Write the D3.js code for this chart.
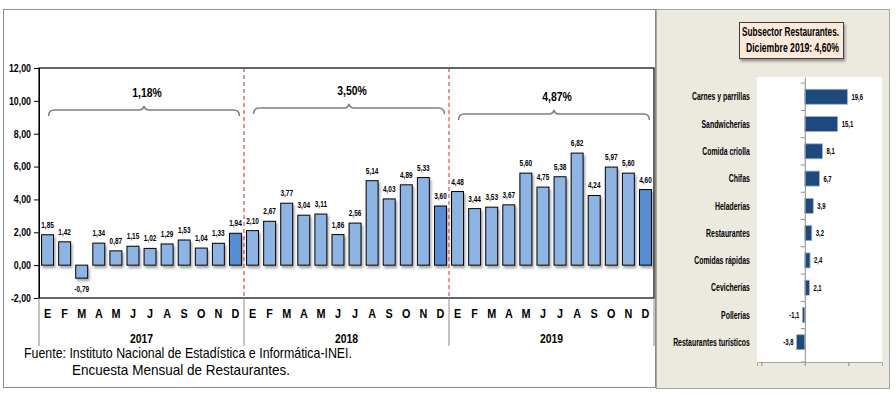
<!DOCTYPE html>
<html>
<head>
<meta charset="utf-8">
<script src="https://cdnjs.cloudflare.com/ajax/libs/d3/7.8.5/d3.min.js"></script>
<style>
  html, body { margin: 0; padding: 0; background: #fff; }
  svg { display: block; }
  text { font-family: "Liberation Sans", Arial, sans-serif; }
</style>
</head>
<body>
<svg id="chart" width="896" height="396"></svg>
<script>
// data
var months = ['E', 'F', 'M', 'A', 'M', 'J', 'J', 'A', 'S', 'O', 'N', 'D'];
var years = ['2017', '2018', '2019'];
var values2017 = [1.85, 1.42, -0.79, 1.34, 0.87, 1.15, 1.02, 1.29, 1.53, 1.04, 1.33, 1.94];
var values2018 = [2.10, 2.67, 3.77, 3.04, 3.11, 1.86, 2.56, 5.14, 4.03, 4.89, 5.33, 3.60];
var values2019 = [4.48, 3.44, 3.53, 3.67, 5.60, 4.75, 5.38, 6.82, 4.24, 5.97, 5.60, 4.60];
var yearTotals = ['1,18%', '3,50%', '4,87%'];
var yTicks = [-2, 0, 2, 4, 6, 8, 10, 12];

var subCategories = ['Carnes y parrillas', 'Sandwicherías', 'Comida criolla', 'Chifas', 'Heladerías',
  'Restaurantes', 'Comidas rápidas', 'Cevicherías', 'Pollerías', 'Restaurantes turísticos'];
var subValues = [19.6, 15.1, 8.1, 6.7, 3.9, 3.2, 2.4, 2.1, -1.1, -3.8];
var subTicks = [-20, 0, 20];
var panelTitle = ['Subsector Restaurantes.', 'Diciembre 2019: 4,60%'];
var sourceNotes = ['Fuente: Instituto Nacional de Estadística e Informática-INEI.', 'Encuesta Mensual de  Restaurantes.'];

(function () {
  'use strict';
  var svg = d3.select('#chart');
  var loc = d3.formatLocale({ decimal: ',', thousands: '.', grouping: [3], currency: ['', ''], minus: '-' });
  var fmt2 = loc.format('.2f');
  var fmt1 = loc.format('.1f');

  // the original font is a narrow one; squeeze text horizontally
  function condense(sel, factor) {
    sel.each(function () {
      var w = this.getComputedTextLength();
      d3.select(this).attr('textLength', w * factor).attr('lengthAdjust', 'spacingAndGlyphs');
    });
  }
  function fitTo(sel, width) {
    sel.attr('textLength', width).attr('lengthAdjust', 'spacingAndGlyphs');
  }

  var series = [values2017, values2018, values2019];
  var rows = [];
  years.forEach(function (yr, i) {
    series[i].forEach(function (v, m) {
      rows.push({ key: yr + '-' + m, year: yr, month: months[m], value: v, dec: m === 11 });
    });
  });

  var defs = svg.append('defs');
  defs.append('filter').attr('id', 'shadow')
    .attr('x', '-30%').attr('y', '-30%').attr('width', '170%').attr('height', '170%')
    .append('feDropShadow')
    .attr('dx', 1.5).attr('dy', 2.5).attr('stdDeviation', 1.3)
    .attr('flood-color', '#000').attr('flood-opacity', 0.35);

  // outer frames
  svg.append('rect').attr('x', 3.5).attr('y', 9.5).attr('width', 652).attr('height', 378)
    .attr('fill', '#fff').attr('stroke', '#8c8c8c');
  svg.append('rect').attr('x', 656.5).attr('y', 9.5).attr('width', 233).attr('height', 379)
    .attr('fill', '#ECE9DF').attr('stroke', '#a6a6a6');

  // ---------- main chart ----------
  var plot = { left: 39, right: 654, top: 68, bottom: 298 };
  var x = d3.scaleBand().domain(rows.map(function (d) { return d.key; }))
    .range([plot.left, plot.right]).paddingInner(0.3).paddingOuter(0.15);
  var y = d3.scaleLinear().domain([-2, 12]).range([plot.bottom, plot.top]);

  svg.append('rect').attr('x', plot.left).attr('y', plot.top)
    .attr('width', plot.right - plot.left).attr('height', plot.bottom - plot.top)
    .attr('fill', 'none').attr('stroke', '#000').attr('stroke-width', 1.2);

  var yAxis = svg.append('g').attr('transform', 'translate(' + plot.left + ',0)')
    .call(d3.axisLeft(y).tickValues(yTicks).tickSize(5).tickPadding(3).tickFormat(fmt2));
  yAxis.select('.domain').attr('stroke', '#000');
  yAxis.selectAll('.tick line').attr('stroke', '#000');
  yAxis.selectAll('text').attr('font-size', 10.5).attr('font-weight', 'bold').attr('fill', '#000')
    .attr('font-family', '"Liberation Sans", Arial, sans-serif').call(condense, 0.84);

  // zero line
  svg.append('line').attr('x1', plot.left).attr('x2', plot.right)
    .attr('y1', y(0)).attr('y2', y(0)).attr('stroke', '#8c8c8c').attr('stroke-width', 1.2)
    .attr('filter', 'url(#shadow)');

  svg.append('g').selectAll('rect').data(rows).join('rect')
    .attr('x', function (d) { return x(d.key); })
    .attr('width', x.bandwidth())
    .attr('y', function (d) { return y(Math.max(0, d.value)); })
    .attr('height', function (d) { return Math.abs(y(d.value) - y(0)); })
    .attr('fill', function (d) { return d.dec ? '#558ED5' : '#8EB4E3'; })
    .attr('stroke', '#000').attr('stroke-width', 1)
    .attr('filter', 'url(#shadow)');

  svg.append('g').selectAll('text').data(rows).join('text')
    .attr('x', function (d) { return x(d.key) + x.bandwidth() / 2; })
    .attr('y', function (d) { return d.value >= 0 ? y(d.value) - 7 : y(d.value) + 14; })
    .attr('text-anchor', 'middle').attr('font-size', 9.5).attr('font-weight', 'bold')
    .text(function (d) { return fmt2(d.value); })
    .call(condense, 0.68);

  // year separators (red dashed inside, grey below)
  var sepX = [1, 2].map(function (i) { return x(rows[i * 12].key) - x.step() * x.paddingInner() / 2; });
  svg.append('g').selectAll('line').data(sepX).join('line')
    .attr('x1', function (d) { return d; }).attr('x2', function (d) { return d; })
    .attr('y1', plot.top).attr('y2', plot.bottom)
    .attr('stroke', '#d9262b').attr('stroke-width', 1).attr('stroke-dasharray', '4,3');
  svg.append('g').selectAll('line').data([plot.left].concat(sepX, [plot.right])).join('line')
    .attr('x1', function (d) { return d; }).attr('x2', function (d) { return d; })
    .attr('y1', plot.bottom).attr('y2', 346)
    .attr('stroke', '#8c8c8c').attr('stroke-width', 1);

  // month and year labels
  svg.append('g').selectAll('text').data(rows).join('text')
    .attr('x', function (d) { return x(d.key) + x.bandwidth() / 2; })
    .attr('y', 318).attr('text-anchor', 'middle')
    .attr('font-size', 13.5).attr('font-weight', 'bold')
    .text(function (d) { return d.month; })
    .call(condense, 0.8);
  svg.append('g').selectAll('text').data(years).join('text')
    .attr('x', function (d, i) { return (x(rows[i * 12].key) + x(rows[i * 12 + 11].key) + x.bandwidth()) / 2; })
    .attr('y', 343).attr('text-anchor', 'middle')
    .attr('font-size', 13).attr('font-weight', 'bold')
    .text(function (d) { return d; })
    .call(condense, 0.8);

  // braces with yearly totals
  var braceY = [110, 108, 114];
  function bracePath(x1, x2, yy) {
    var mid = (x1 + x2) / 2;
    return 'M' + x1 + ',' + (yy + 6) + 'Q' + x1 + ',' + yy + ' ' + (x1 + 6) + ',' + yy +
      'L' + (mid - 5) + ',' + yy + 'Q' + (mid - 1) + ',' + yy + ' ' + mid + ',' + (yy - 4) +
      'Q' + (mid + 1) + ',' + yy + ' ' + (mid + 5) + ',' + yy +
      'L' + (x2 - 6) + ',' + yy + 'Q' + x2 + ',' + yy + ' ' + x2 + ',' + (yy + 6);
  }
  years.forEach(function (yr, i) {
    var x1 = x(rows[i * 12].key) + 7;
    var x2 = x(rows[i * 12 + 11].key) + x.bandwidth() - 2;
    svg.append('path').attr('d', bracePath(x1, x2, braceY[i]))
      .attr('fill', 'none').attr('stroke', '#7f7f7f').attr('stroke-width', 1.5);
    svg.append('text').attr('x', (x1 + x2) / 2 + 3).attr('y', braceY[i] - 13)
      .attr('text-anchor', 'middle').attr('font-size', 13).attr('font-weight', 'bold')
      .text(yearTotals[i])
      .call(condense, 0.8);
  });

  // source notes
  svg.append('text').attr('x', 24).attr('y', 358).attr('font-size', 14.5)
    .text(sourceNotes[0]).call(fitTo, 328);
  svg.append('text').attr('x', 72).attr('y', 375).attr('font-size', 14.5)
    .text(sourceNotes[1]).call(fitTo, 218);

  // ---------- side panel ----------
  var box = svg.append('g');
  box.append('rect').attr('x', 739.5).attr('y', 22.5).attr('width', 104).attr('height', 36)
    .attr('fill', '#FDE9D9').attr('stroke', '#404040').attr('filter', 'url(#shadow)');
  box.selectAll('text').data(panelTitle).join('text')
    .attr('x', function (d, i) { return i === 0 ? 742 : 746; })
    .attr('y', function (d, i) { return 36 + i * 16; })
    .attr('font-size', 12).attr('font-weight', 'bold')
    .text(function (d) { return d; })
    .each(function (d, i) { d3.select(this).call(fitTo, i === 0 ? 97 : 93); });

  var sp = { left: 757, right: 882, top: 77, bottom: 362 };
  svg.append('rect').attr('x', sp.left).attr('y', sp.top)
    .attr('width', sp.right - sp.left).attr('height', sp.bottom - sp.top).attr('fill', '#fff');
  var xr = d3.scaleLinear().domain([-22, 35.5]).range([sp.left, sp.right]);
  var yr = d3.scaleBand().domain(subCategories).range([sp.top, sp.bottom]).padding(0.45);

  svg.append('g').selectAll('rect').data(subCategories).join('rect')
    .attr('x', function (d, i) { return xr(Math.min(0, subValues[i])); })
    .attr('width', function (d, i) { return Math.abs(xr(subValues[i]) - xr(0)); })
    .attr('y', function (d) { return yr(d); })
    .attr('height', yr.bandwidth())
    .attr('fill', '#1F497D').attr('stroke', '#9db3cf').attr('stroke-width', 0.8);

  svg.append('g').selectAll('text').data(subCategories).join('text')
    .attr('x', function (d, i) { return subValues[i] >= 0 ? xr(subValues[i]) + 4 : xr(subValues[i]) - 3; })
    .attr('y', function (d) { return yr(d) + yr.bandwidth() / 2 + 3; })
    .attr('text-anchor', function (d, i) { return subValues[i] >= 0 ? 'start' : 'end'; })
    .attr('font-size', 9).attr('font-weight', 'bold')
    .text(function (d, i) { return fmt1(subValues[i]); })
    .call(condense, 0.66);

  var cat = svg.append('g').attr('transform', 'translate(' + xr(0) + ',0)')
    .call(d3.axisLeft(yr).tickSize(0).tickPadding(55));
  cat.select('.domain').attr('stroke', '#8c8c8c');
  cat.selectAll('text').attr('font-size', 11.5).attr('font-weight', 'bold').attr('fill', '#000')
    .attr('font-family', '"Liberation Sans", Arial, sans-serif').call(condense, 0.6);
  // tick marks at band edges
  var edges = subCategories.map(function (d) { return yr(d) - yr.step() * yr.paddingInner() / 2; });
  edges.push(sp.bottom);
  cat.selectAll('line.edge').data(edges).join('line').attr('class', 'edge')
    .attr('x1', -4).attr('x2', 0).attr('y1', function (d) { return d; }).attr('y2', function (d) { return d; })
    .attr('stroke', '#8c8c8c');

  var va = svg.append('g').attr('transform', 'translate(0,' + sp.bottom + ')')
    .call(d3.axisBottom(xr).tickValues(subTicks).tickSize(4).tickFormat(''));
  va.select('.domain').attr('stroke', '#a6a6a6');
  va.selectAll('.tick line').attr('stroke', '#8c8c8c');
})();
</script>
</body>
</html>
